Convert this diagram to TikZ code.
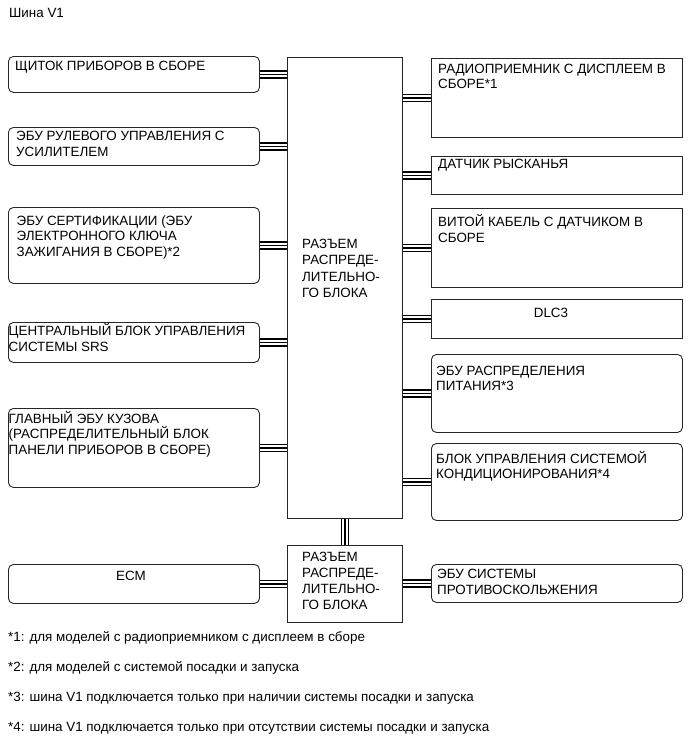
\documentclass[tikz,border=0pt]{standalone}
\usepackage{fontspec}
\setmainfont{Liberation Sans}
\begin{document}
\begin{tikzpicture}[x=1pt,y=-1pt,
  box/.style={draw=black!85, line width=0.9pt, anchor=north west, inner sep=0pt, minimum width=251pt},
  rbox/.style={box, rounded corners=5pt},
  mbox/.style={draw=black!85, line width=0.9pt, anchor=north west, inner sep=0pt, minimum width=115pt},
  txt/.style={anchor=base west, inner sep=0pt, align=left, font=\fontsize{13.4}{15.5}\selectfont},
  mtxt/.style={anchor=base west, inner sep=0pt, align=left, font=\fontsize{13.4}{16.5}\selectfont},
  bus/.style={preaction={draw=black, line width=8.5pt}, draw=white, line width=5.5pt, postaction={draw=black, line width=1.5pt}}
]
\useasboundingbox (0,0) rectangle (689,756);

% title
\node[txt] (title) at (9,17.5) {Шина V1};

% central connectors
\node[mbox, minimum height=461pt] (mu) at (287,57) {};
\node[mbox, minimum height=77pt] (ml) at (287,545) {};
\node[mtxt] (mut) at (302,297.8) {РАЗЪЕМ\\РАСПРЕДЕ-\\ЛИТЕЛЬНО-\\ГО БЛОКА};
\node[txt, font=\fontsize{13.4}{16}\selectfont] (mlt) at (302,609.5) {РАЗЪЕМ\\РАСПРЕДЕ-\\ЛИТЕЛЬНО-\\ГО БЛОКА};

% left boxes
\node[rbox, minimum height=36pt] (l1) at (8,56) {};
\node[rbox, minimum height=38pt] (l2) at (8,127) {};
\node[rbox, minimum height=76pt] (l3) at (8,207) {};
\node[rbox, minimum height=40pt] (l4) at (8,322) {};
\node[rbox, minimum height=79pt] (l5) at (8,408) {};
\node[rbox, minimum height=39pt] (ecm) at (8,564) {};

\node[txt] (l1t) at (15,70) {ЩИТОК ПРИБОРОВ В СБОРЕ};
\node[txt] (l2t) at (16,156) {ЭБУ РУЛЕВОГО УПРАВЛЕНИЯ С\\УСИЛИТЕЛЕМ};
\node[txt] (l3t) at (16.5,256) {ЭБУ СЕРТИФИКАЦИИ (ЭБУ\\ЭЛЕКТРОННОГО КЛЮЧА\\ЗАЖИГАНИЯ В СБОРЕ)*2};
\node[txt] (l4t) at (8.5,351) {ЦЕНТРАЛЬНЫЙ БЛОК УПРАВЛЕНИЯ\\СИСТЕМЫ SRS};
\node[txt] (l5t) at (8.5,454) {ГЛАВНЫЙ ЭБУ КУЗОВА\\(РАСПРЕДЕЛИТЕЛЬНЫЙ БЛОК\\ПАНЕЛИ ПРИБОРОВ В СБОРЕ)};
\node[txt, anchor=base] (ecmt) at (131,580) {ECM};

% right boxes
\node[box, minimum height=79pt] (r1) at (431,58) {};
\node[box, minimum height=38pt] (r2) at (431,156) {};
\node[box, minimum height=79pt] (r3) at (431,208) {};
\node[box, minimum height=39pt] (r4) at (431,299) {};
\node[rbox, minimum height=78pt] (r5) at (431,354) {};
\node[rbox, minimum height=77pt] (r6) at (431,443) {};
\node[rbox, minimum height=38pt] (r7) at (431,564) {};

\node[txt] (r1t) at (438,88.5) {РАДИОПРИЕМНИК С ДИСПЛЕЕМ В\\СБОРЕ*1};
\node[txt] (r2t) at (438,168.5) {ДАТЧИК РЫСКАНЬЯ};
\node[txt] (r3t) at (438,242) {ВИТОЙ КАБЕЛЬ С ДАТЧИКОМ В\\СБОРЕ};
\node[txt, anchor=base] (r4t) at (551,317) {DLC3};
\node[txt] (r5t) at (436,390.5) {ЭБУ РАСПРЕДЕЛЕНИЯ\\ПИТАНИЯ*3};
\node[txt] (r6t) at (436,478.5) {БЛОК УПРАВЛЕНИЯ СИСТЕМОЙ\\КОНДИЦИОНИРОВАНИЯ*4};
\node[txt, font=\fontsize{13.4}{16}\selectfont] (r7t) at (437,594) {ЭБУ СИСТЕМЫ\\ПРОТИВОСКОЛЬЖЕНИЯ};

% buses
\foreach \b in {l1,l2,l3,l4,l5} \draw[bus] (\b.east) -- (\b.east -| mu.west);
\foreach \b in {r1,r2,r3,r4,r5,r6} \draw[bus] (\b.west) -- (\b.west -| mu.east);
\draw[bus] (ecm.east) -- (ecm.east -| ml.west);
\draw[bus] (r7.west) -- (r7.west -| ml.east);
\draw[bus] (mu.south) -- (ml.north);

% footnotes
\node[txt] (f1) at (8,641.5) {*1: для моделей с радиоприемником с дисплеем в сборе};
\node[txt] (f2) at (8,671) {*2: для моделей с системой посадки и запуска};
\node[txt] (f3) at (8,701) {*3: шина V1 подключается только при наличии системы посадки и запуска};
\node[txt] (f4) at (8,731) {*4: шина V1 подключается только при отсутствии системы посадки и запуска};
\end{tikzpicture}
\end{document}
